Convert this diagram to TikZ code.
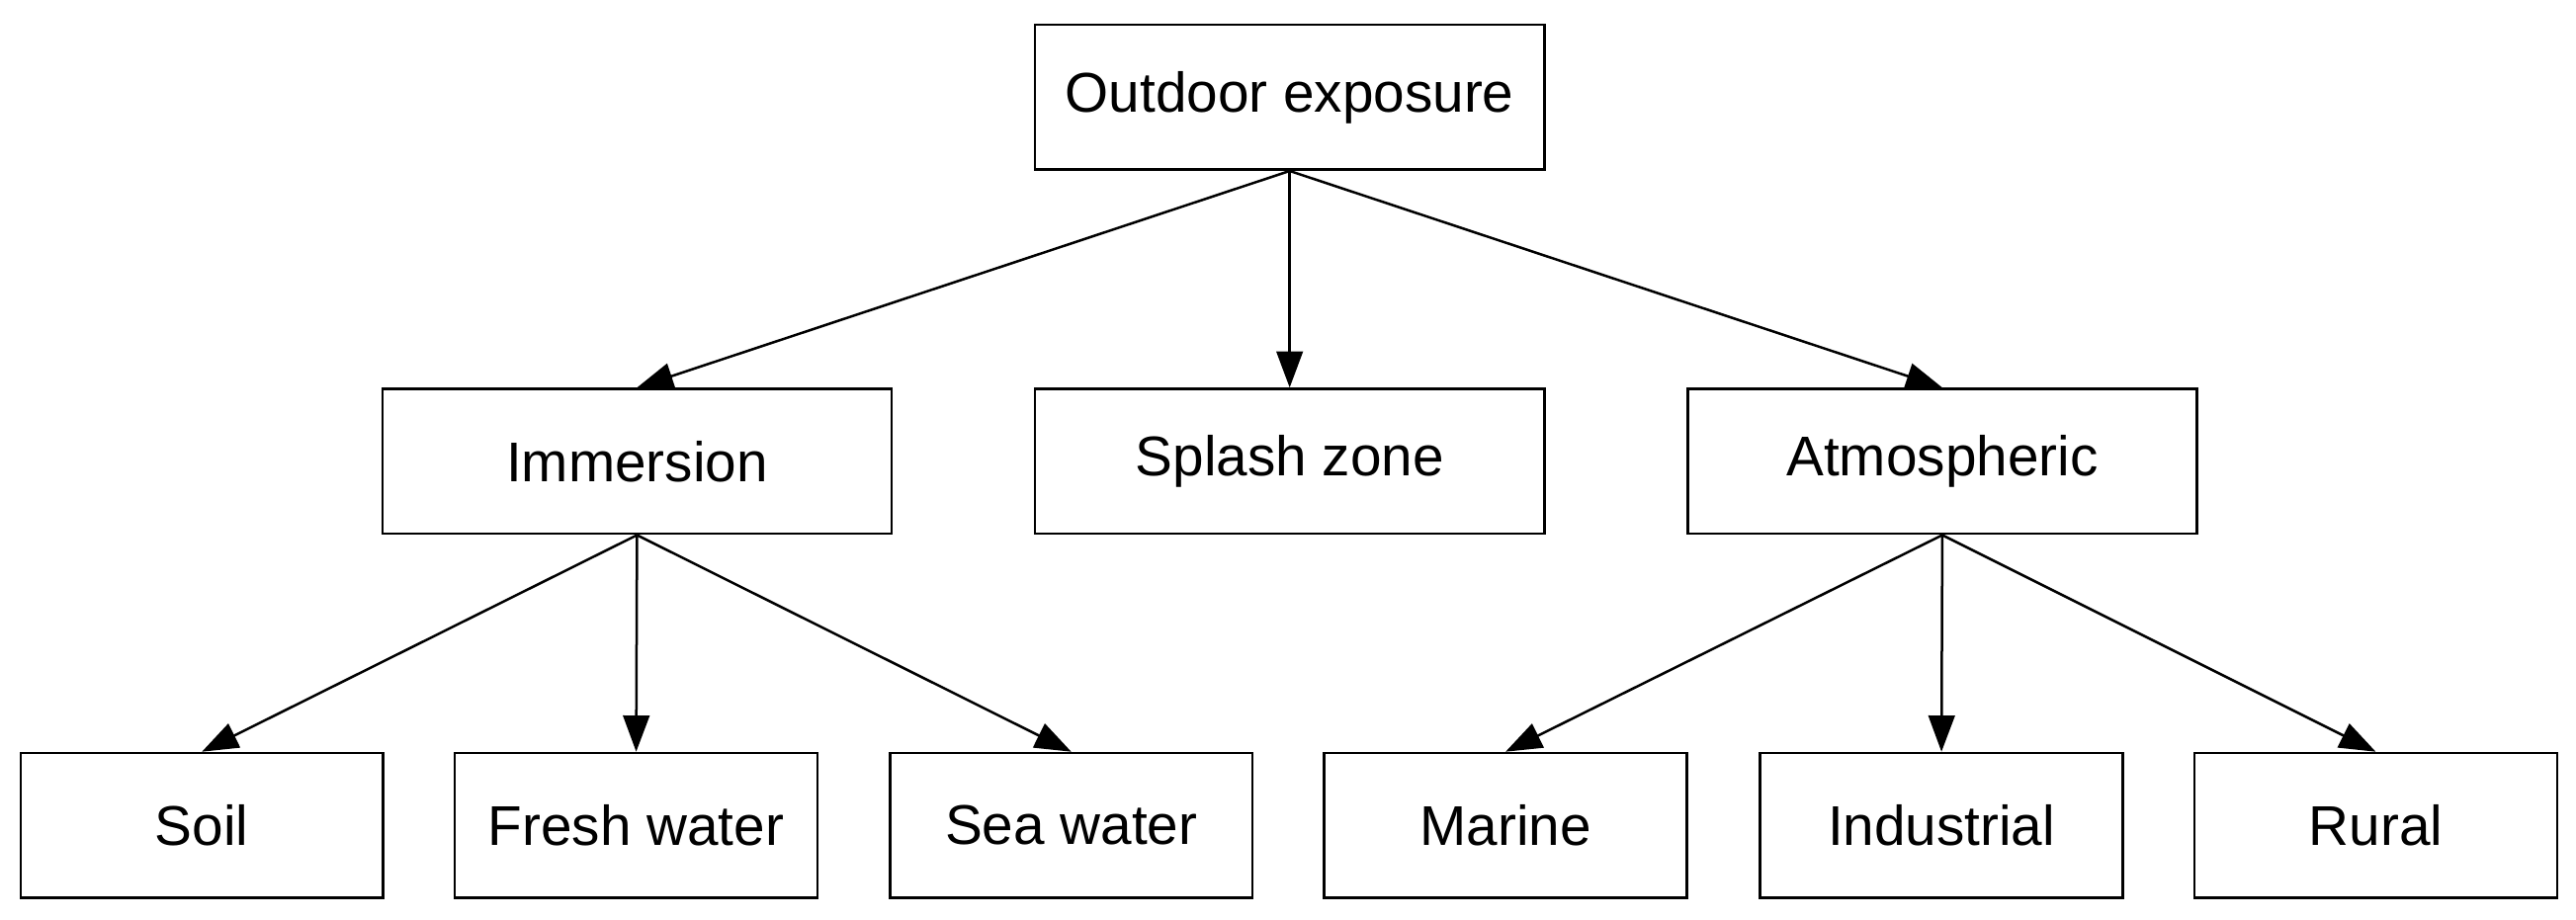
\documentclass[tikz,border=0pt]{standalone}
\usepackage{fontspec}
\setmainfont{Liberation Sans}
\usetikzlibrary{arrows.meta}
\begin{document}
\begin{tikzpicture}[x=0.5pt,y=-0.5pt,
 box/.style={draw,line width=0.75pt,minimum height=44pt,inner sep=0pt,font=\fontsize{17}{20}\selectfont},
 wide/.style={box,minimum width=154.5pt},
 narrow/.style={box,minimum width=110pt},
 arr/.style={line width=0.75pt,-{Triangle[length=11pt,width=8pt]}}]
\useasboundingbox (0,0) rectangle (1563,558);
\node[wide] (out) at (782.5,59) {Outdoor exposure};
\node[wide] (imm) at (386.5,280) {Immersion};
\node[wide] (spl) at (782.5,280) {Splash zone};
\node[wide] (atm) at (1178.5,280) {Atmospheric};
\node[narrow] (soil) at (122.5,501) {Soil};
\node[narrow] (fresh) at (386,501) {Fresh water};
\node[narrow] (sea) at (650,501) {Sea water};
\node[narrow] (mar) at (913.5,501) {Marine};
\node[narrow] (ind) at (1178,501) {Industrial};
\node[narrow] (rur) at (1441.5,501) {Rural};
\draw[arr] (out.south) -- (imm.north);
\draw[arr] (out.south) -- (spl.north);
\draw[arr] (out.south) -- (atm.north);
\draw[arr] (imm.south) -- (soil.north);
\draw[arr] (imm.south) -- (fresh.north);
\draw[arr] (imm.south) -- (sea.north);
\draw[arr] (atm.south) -- (mar.north);
\draw[arr] (atm.south) -- (ind.north);
\draw[arr] (atm.south) -- (rur.north);
\end{tikzpicture}
\end{document}
